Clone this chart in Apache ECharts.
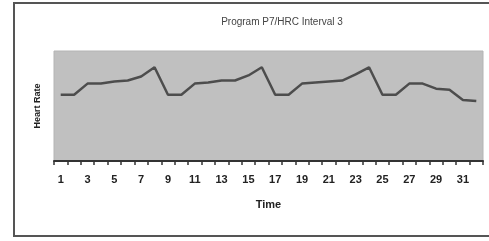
<!DOCTYPE html>
<html>
<head>
<meta charset="utf-8">
<script src="https://cdn.jsdelivr.net/npm/echarts@6/dist/echarts.min.js"></script>
<style>
  html, body { margin: 0; padding: 0; background: #fff; }
  #chart { width: 489px; height: 241px; }
</style>
</head>
<body>
<div id="chart"></div>
<script>
const timeLabels = ["1","2","3","4","5","6","7","8","9","10","11","12","13","14","15","16",
  "17","18","19","20","21","22","23","24","25","26","27","28","29","30","31","32"];
// heart rate readings (axis has no scale)
const heartRate = [125, 125, 136, 136, 138, 139, 143, 152,
  125, 125, 136, 137, 139, 139, 144, 152,
  125, 125, 136, 137, 138, 139, 145, 152,
  125, 125, 136, 136, 131, 130, 120, 119];

const chart = echarts.init(document.getElementById("chart"));
chart.setOption({
  animation: false,
  title: {
    text: "Program P7/HRC Interval 3",
    left: 277, top: 12, textAlign: "center",
    textStyle: { fontFamily: "Liberation Sans", fontSize: 10, fontWeight: "normal", color: "#444" }
  },
  graphic: [{
    type: "rect",
    shape: { x: 14, y: 3, width: 540, height: 233 },
    style: { fill: null, stroke: "#555", lineWidth: 2 },
    z: -1
  }],
  grid: {
    left: 54, right: 6, top: 51, bottom: 80,
    show: true, backgroundColor: "#c0c0c0", borderColor: "#b4b4b4", borderWidth: 1
  },
  xAxis: {
    type: "category",
    data: timeLabels,
    name: "Time",
    nameLocation: "middle",
    nameGap: 38,
    nameTextStyle: { fontFamily: "Liberation Sans", fontSize: 11, fontWeight: "bold", color: "#222" },
    axisLine: { show: true, lineStyle: { color: "#333", width: 2 } },
    axisTick: { show: true, interval: 0, length: 4, lineStyle: { color: "#333", width: 1.5 } },
    axisLabel: { interval: 1, margin: 13, fontFamily: "Liberation Sans", fontSize: 11, fontWeight: "bold", color: "#222" }
  },
  yAxis: {
    type: "value",
    min: 60, max: 168,
    name: "Heart Rate",
    nameLocation: "middle",
    nameRotate: 90,
    nameGap: 12,
    nameTextStyle: { fontFamily: "Liberation Sans", fontSize: 9, fontWeight: "bold", color: "#222" },
    axisLine: { show: false },
    axisTick: { show: false },
    axisLabel: { show: false },
    splitLine: { show: false }
  },
  series: [{
    type: "line",
    data: heartRate,
    showSymbol: false,
    lineStyle: { color: "#4d4d4d", width: 2.5 }
  }]
});
</script>
</body>
</html>
